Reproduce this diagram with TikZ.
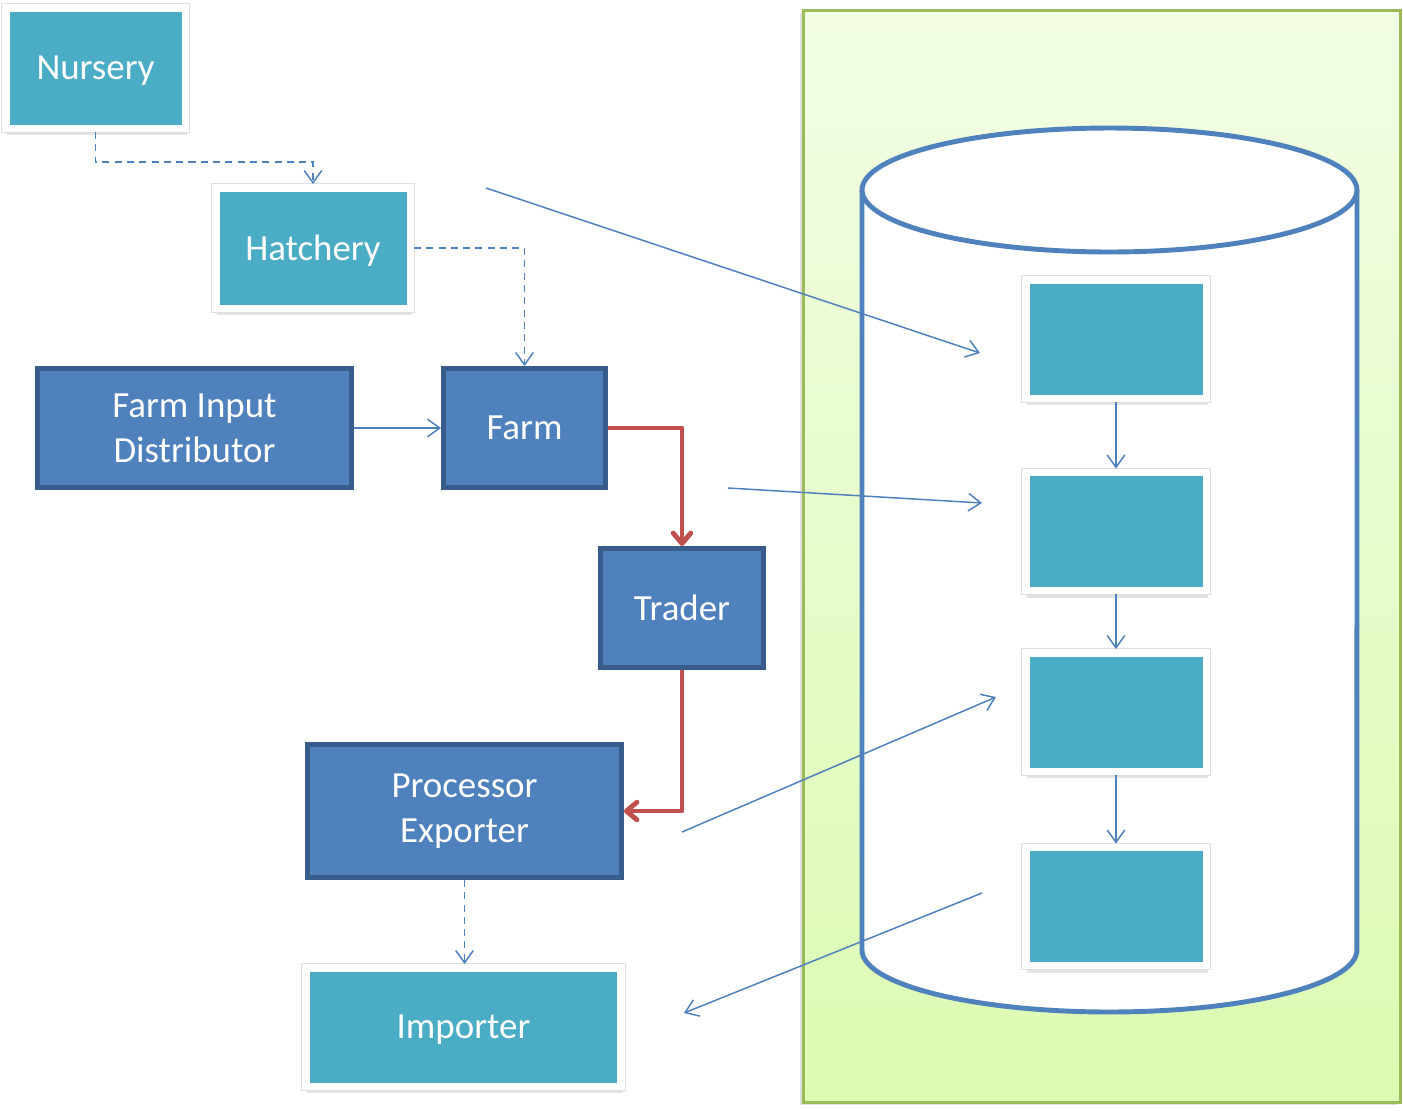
\documentclass[tikz,border=0pt]{standalone}
\usepackage{fontspec}
\setmainfont{Carlito}
\usetikzlibrary{positioning, calc, arrows.meta, shadows}

\definecolor{tealBox}{HTML}{4BACC6}
\definecolor{blueBox}{HTML}{4F81BD}
\definecolor{blueEdge}{HTML}{385D8A}
\definecolor{redLink}{HTML}{C0504D}
\definecolor{panelEdge}{HTML}{9BBB59}
\definecolor{panelTop}{HTML}{F2FDE4}
\definecolor{panelBot}{HTML}{DCFBB2}

\begin{document}
\begin{tikzpicture}[x=0.02cm, y=-0.02cm,
    boxtext/.style={text=white, align=center, font=\fontsize{21}{25.5}\selectfont},
    oneline/.style={text depth=0pt},
    tealbox/.style={boxtext, oneline, fill=tealBox, draw=white, line width=4.25pt,
        drop shadow={shadow xshift=0.8pt, shadow yshift=-4pt, opacity=0.22},
        preaction={draw=black!13, line width=5.3pt}},
    bluebox/.style={boxtext, fill=blueBox, draw=blueEdge, line width=2.8pt},
    link/.style={draw=blueBox, line width=0.85pt, -{Straight Barb[length=7pt,width=10pt]}},
    dashlink/.style={link, dash pattern=on 4pt off 3pt},
    redlink/.style={draw=redLink, line width=2.8pt, line join=round,
        -{Straight Barb[length=6pt,width=10pt,line cap=round,line join=round]}}]
    \useasboundingbox (0,0) rectangle (1403,1110);

    %Panel
    \shade[top color=panelTop, middle color=panelTop, bottom color=panelBot,
        drop shadow={shadow xshift=-1.5pt, shadow yshift=-1.5pt, opacity=0.25}]
        (803,10) rectangle (1400,1102);
    \draw[panelEdge, line width=1.7pt] (803,10) rectangle (1400,1102);

    %Cylinder
    \draw[blueBox, fill=white, line width=2.8pt] (862,190) -- (862,950)
        arc[start angle=180, end angle=360, x radius=4.95cm, y radius=1.24cm] -- (1357,190);
    \draw[blueBox, fill=white, line width=2.8pt] (1109.5,190) ellipse [x radius=4.95cm, y radius=1.24cm];

    %Chain boxes
    \node[tealbox, minimum width=3.59cm, minimum height=2.41cm] (nursery) at (95.5,68) {Nursery};
    \node[tealbox, minimum width=3.89cm, minimum height=2.41cm] (hatchery) at (313,248) {Hatchery};
    \node[bluebox, minimum width=6.28cm, minimum height=2.38cm] (fid) at (194.5,428) {Farm Input\\Distributor};
    \node[bluebox, oneline, minimum width=3.24cm, minimum height=2.38cm] (farm) at (524.5,428) {Farm};
    \node[bluebox, oneline, minimum width=3.26cm, minimum height=2.38cm] (trader) at (682,608) {Trader};
    \node[bluebox, minimum width=6.28cm, minimum height=2.66cm] (proc) at (464.5,811) {Processor\\Exporter};
    \node[tealbox, minimum width=6.31cm, minimum height=2.37cm] (importer) at (463.5,1027) {Importer};

    %Database boxes
    \node[tealbox, minimum width=3.61cm, minimum height=2.37cm] (db1) at (1116,339) {};
    \node[tealbox, minimum width=3.61cm, minimum height=2.37cm] (db2) at (1116,531.5) {};
    \node[tealbox, minimum width=3.61cm, minimum height=2.37cm] (db3) at (1116,712) {};
    \node[tealbox, minimum width=3.61cm, minimum height=2.37cm] (db4) at (1116,906.5) {};

    %Chain links
    \draw[dashlink] (nursery.south) -- ++(0,30) -| (hatchery.north);
    \draw[dashlink] (hatchery.east) -| (farm.north);
    \draw[link] (fid.east) -- (farm.west);
    \draw[redlink] (farm.east) -| (trader.north);
    \draw[redlink] (trader.south) |- (proc.east);
    \draw[dashlink] (proc.south) -- (proc.south |- importer.north);

    %Database links
    \draw[link] (db1.south) -- (db2.north);
    \draw[link] (db2.south) -- (db3.north);
    \draw[link] (db3.south) -- (db4.north);

    %Records
    \coordinate (hatchOut) at (486,188);
    \coordinate (db1In) at (980,353);
    \coordinate (farmOut) at (728,488);
    \coordinate (db2In) at (982,503);
    \coordinate (procOut) at (682,832);
    \coordinate (db3In) at (996,697);
    \coordinate (db4Out) at (982,893);
    \coordinate (impIn) at (684,1013);
    \draw[link] (hatchOut) -- (db1In);
    \draw[link] (farmOut) -- (db2In);
    \draw[link] (procOut) -- (db3In);
    \draw[link] (db4Out) -- (impIn);
\end{tikzpicture}
\end{document}
